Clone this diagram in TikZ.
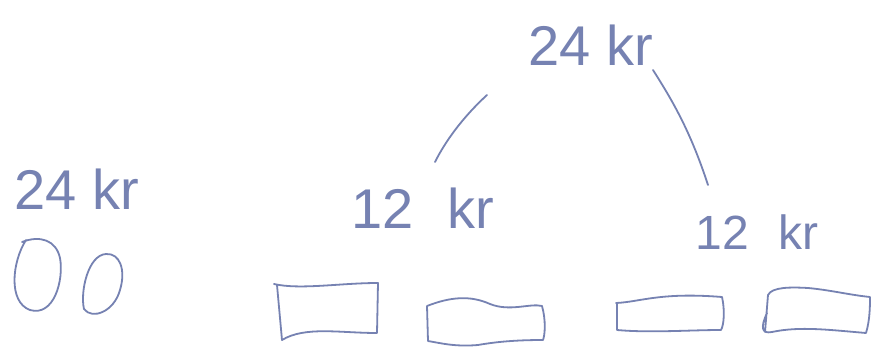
\documentclass[tikz,border=0pt]{standalone}
\usepackage{fontspec}
\setmainfont{Liberation Sans}
\definecolor{ink}{RGB}{118,130,178}
\begin{document}
\begin{tikzpicture}[x=1pt,y=-1pt,
  pen/.style={draw=ink,line width=1.8pt,line cap=round,line join=round},
  lbl/.style={text=ink,inner sep=0pt,anchor=center}]
\useasboundingbox (0,0) rectangle (873,347);
\fill[white] (0,0) rectangle (873,347);
% labels
\node[lbl,font=\fontsize{56}{60}\selectfont] (top) at (591,45) {24 kr};
\node[lbl,font=\fontsize{56}{60}\selectfont] (left) at (423,208) {12\,\, kr};
\node[lbl,font=\fontsize{48}{52}\selectfont] (right) at (757,232) {12\,\, kr};
\node[lbl,font=\fontsize{56}{60}\selectfont] (money) at (77,189) {24 kr};
% connectors
\coordinate (l1) at (487,95);
\coordinate (l2) at (435,162);
\coordinate (r1) at (653,70);
\coordinate (r2) at (708,185);
\draw[pen] (l1) .. controls (462,118) and (445,142) .. (l2);
\draw[pen] (r1) .. controls (672,100) and (690,130) .. (r2);
% coins
\draw[pen] (26,240) .. controls (12,262) and (8,302) .. (30,310)
  .. controls (54,317) and (64,280) .. (60,258) .. controls (56,240) and (40,235) .. (22,242);
\draw[pen] (106,254) .. controls (88,255) and (80,292) .. (84,309)
  .. controls (92,320) and (114,312) .. (120,290) .. controls (126,270) and (120,253) .. (106,254);
% boxes
\draw[pen] (274,284) .. controls (300,290) and (340,283) .. (378,283)
  -- (377,333) .. controls (340,333) and (305,326) .. (282,340)
  -- (277,285);
\draw[pen] (427,306) .. controls (450,297) and (470,295) .. (490,304)
  .. controls (510,312) and (530,303) .. (542,306)
  .. controls (546,320) and (545,335) .. (543,340)
  .. controls (515,340) and (495,342) .. (478,345)
  .. controls (455,347) and (440,343) .. (428,341) -- (427,306);
\draw[pen] (616,303) .. controls (640,302) and (660,292) .. (722,297)
  .. controls (725,310) and (724,325) .. (721,330)
  .. controls (690,330) and (650,333) .. (617,330) -- (617,304);
\draw[pen] (767,313) .. controls (760,328) and (762,334) .. (772,332)
  .. controls (800,326) and (830,330) .. (866,333)
  .. controls (870,320) and (870,305) .. (870,297)
  .. controls (850,295) and (830,290) .. (808,288)
  .. controls (790,287) and (772,287) .. (768,295) -- (765,332);
\end{tikzpicture}
\end{document}
